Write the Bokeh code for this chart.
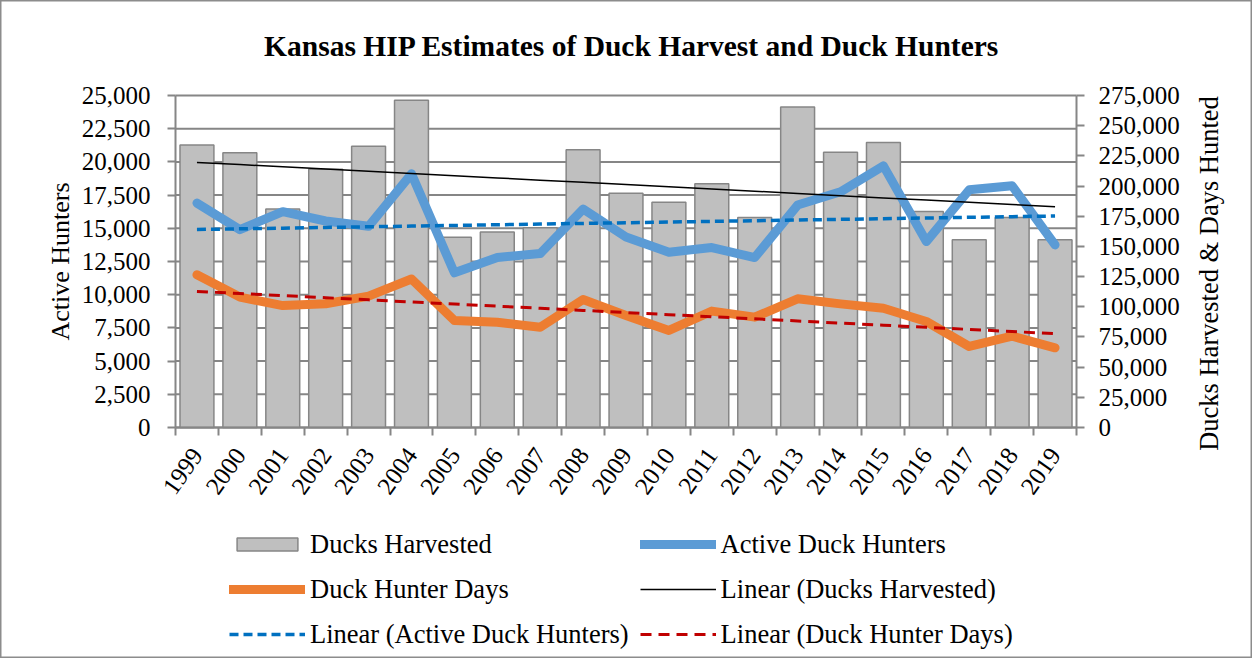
import numpy as np
from bokeh.plotting import figure
from bokeh.models import (Range1d, LinearAxis, FixedTicker, NumeralTickFormatter,
                          ColumnDataSource, Legend, LegendItem, Label)
from bokeh.embed import file_html
from bokeh.resources import INLINE

# ---- data ----
years = ["1999", "2000", "2001", "2002", "2003", "2004", "2005", "2006", "2007", "2008",
         "2009", "2010", "2011", "2012", "2013", "2014", "2015", "2016", "2017", "2018", "2019"]
ducks_harvested = [234000, 227500, 181000, 214000, 233000, 271000, 157500, 162000, 165500, 230000,
                   194000, 186500, 202000, 174000, 265500, 228000, 236000, 179000, 155500, 174000, 155500]
active_hunters = [16900, 14900, 16250, 15550, 15150, 19100, 11650, 12800, 13100, 16450,
                  14350, 13200, 13550, 12800, 16750, 17750, 19700, 14000, 17900, 18200, 13750]
hunter_days = [126500, 108000, 101000, 102500, 108800, 123000, 88600, 87200, 83100, 106000,
               92800, 80400, 96400, 91400, 106600, 102400, 98800, 87800, 67100, 75600, 66000]
left_ticks = list(range(0, 25001, 2500))
right_ticks = list(range(0, 275001, 25000))
LEFT_MAX, RIGHT_MAX = 25000, 275000

FONT = "Liberation Serif"
GRAY = "#868686"

# ---- layout (pixels in the canvas) ----
W, H = 1252, 658
PL, PR, PT, PB = 175, 1076, 95, 427   # plot area edges

n = len(years)
idx = np.arange(n)
xc = idx + 0.5

sx = (PR - PL) / n
sy = (PB - PT) / LEFT_MAX
sy2 = (PB - PT) / RIGHT_MAX

def trend(vals):
    m, b = np.polyfit(idx, np.array(vals, dtype=float), 1)
    return m * idx + b

src = ColumnDataSource(dict(
    x=xc, bars=ducks_harvested, hunters=active_hunters, days=hunter_days,
    t_bars=trend(ducks_harvested), t_hunters=trend(active_hunters), t_days=trend(hunter_days)))

p = figure(width=W, height=H, output_backend="svg", toolbar_location=None,
           x_range=Range1d(-PL / sx, (W - PL) / sx),
           y_range=Range1d(-(H - PB) / sy, LEFT_MAX + PT / sy),
           min_border=0, min_border_left=0, min_border_right=0,
           min_border_top=0, min_border_bottom=0, x_axis_location=None, y_axis_location=None)
p.extra_y_ranges = {"right": Range1d(-(H - PB) / sy2, RIGHT_MAX + PT / sy2)}
p.outline_line_color = "#8c8c8c"
p.outline_line_width = 2
p.background_fill_color = "white"
p.border_fill_color = "white"
p.xgrid.visible = False
p.ygrid.visible = False

# gridlines (under bars)
p.segment(x0=[0] * len(left_ticks), x1=[n] * len(left_ticks), y0=left_ticks, y1=left_ticks,
          line_color=GRAY, line_width=2)

# x axis: labels at centers, ticks at boundaries (minor)
xa = LinearAxis(fixed_location=0, bounds=(0, n),
                ticker=FixedTicker(ticks=list(xc), minor_ticks=list(range(0, n + 1))))
xa.major_label_overrides = {float(v): y for v, y in zip(xc, years)}
xa.major_label_orientation = 0.96
xa.major_tick_line_color = None
xa.major_tick_out = 0
xa.major_tick_in = 0
xa.minor_tick_line_color = GRAY
xa.minor_tick_line_width = 2
xa.minor_tick_out = 8
xa.minor_tick_in = 0
xa.axis_line_color = GRAY
xa.axis_line_width = 2
xa.major_label_text_font = FONT
xa.major_label_text_font_size = "25px"
xa.major_label_text_color = "black"
xa.major_label_standoff = 15
p.add_layout(xa, "below")

ya = LinearAxis(fixed_location=0, bounds=(0, LEFT_MAX), ticker=FixedTicker(ticks=left_ticks),
                formatter=NumeralTickFormatter(format="0,0"), axis_label="Active Hunters")
p.add_layout(ya, "left")
yr = LinearAxis(fixed_location=n, y_range_name="right", bounds=(0, RIGHT_MAX),
                ticker=FixedTicker(ticks=right_ticks),
                formatter=NumeralTickFormatter(format="0,0"))
p.add_layout(yr, "right")

for ax, std in [(ya, 17), (yr, 14)]:
    ax.axis_line_color = GRAY
    ax.axis_line_width = 2
    ax.major_tick_line_color = GRAY
    ax.major_tick_line_width = 2
    ax.major_tick_out = 8
    ax.major_tick_in = 0
    ax.minor_tick_line_color = None
    ax.major_label_text_font = FONT
    ax.major_label_text_font_size = "25px"
    ax.major_label_text_color = "black"
    ax.major_label_standoff = std
ya.axis_label_text_font = FONT
ya.axis_label_text_font_size = "26px"
ya.axis_label_text_font_style = "normal"
ya.axis_label_text_color = "black"
ya.axis_label_standoff = 4

# right axis title (reads bottom to top, like the reference)
p.add_layout(Label(x=n + (1208 - PR) / sx, y=LEFT_MAX - (273 - PT) / sy,
                   text="Ducks Harvested & Days Hunted", angle=np.pi / 2,
                   text_align="center", text_baseline="middle", text_font=FONT,
                   text_font_size="26.5px", text_color="black"))

# series
r_bars = p.vbar(x="x", top="bars", width=0.79, bottom=0, source=src, y_range_name="right",
                fill_color="#bfbfbf", line_color=GRAY, line_width=1.5)
r_hunt = p.line("x", "hunters", source=src, line_color="#5b9bd5", line_width=9,
                line_join="round", line_cap="round")
r_days = p.line("x", "days", source=src, y_range_name="right", line_color="#ed7d31",
                line_width=9, line_join="round", line_cap="round")
r_tb = p.line("x", "t_bars", source=src, y_range_name="right", line_color="black", line_width=1.5)
r_th = p.line("x", "t_hunters", source=src, line_color="#0070c0", line_width=3.5,
              line_dash="9 5")
r_td = p.line("x", "t_days", source=src, y_range_name="right", line_color="#c00000",
              line_width=3, line_dash="11 7")

# title
p.add_layout(Label(x=n / 2 + 6 / sx, y=LEFT_MAX + (PT - 45) / sy,
                   text="Kansas HIP Estimates of Duck Harvest and Duck Hunters",
                   text_align="center", text_baseline="middle", text_font=FONT,
                   text_font_size="29.5px", text_font_style="bold", text_color="black"))

legend = Legend(items=[
    LegendItem(label="Ducks Harvested", renderers=[r_bars]),
    LegendItem(label="Active Duck Hunters", renderers=[r_hunt]),
    LegendItem(label="Duck Hunter Days", renderers=[r_days]),
    LegendItem(label="Linear (Ducks Harvested)", renderers=[r_tb]),
    LegendItem(label="Linear (Active Duck Hunters)", renderers=[r_th]),
    LegendItem(label="Linear (Duck Hunter Days)", renderers=[r_td]),
], location=(229, H - 651), orientation="horizontal", ncols=2)
legend.label_text_font = FONT
legend.label_text_font_size = "26.5px"
legend.label_text_color = "black"
legend.glyph_width = 76
legend.glyph_height = 16
legend.label_height = 34
legend.label_standoff = 5
legend.spacing = 11
legend.padding = 5
legend.margin = 0
legend.border_line_color = None
legend.background_fill_alpha = 0
p.add_layout(legend, "center")

open("out.html", "w").write(file_html(p, INLINE))
